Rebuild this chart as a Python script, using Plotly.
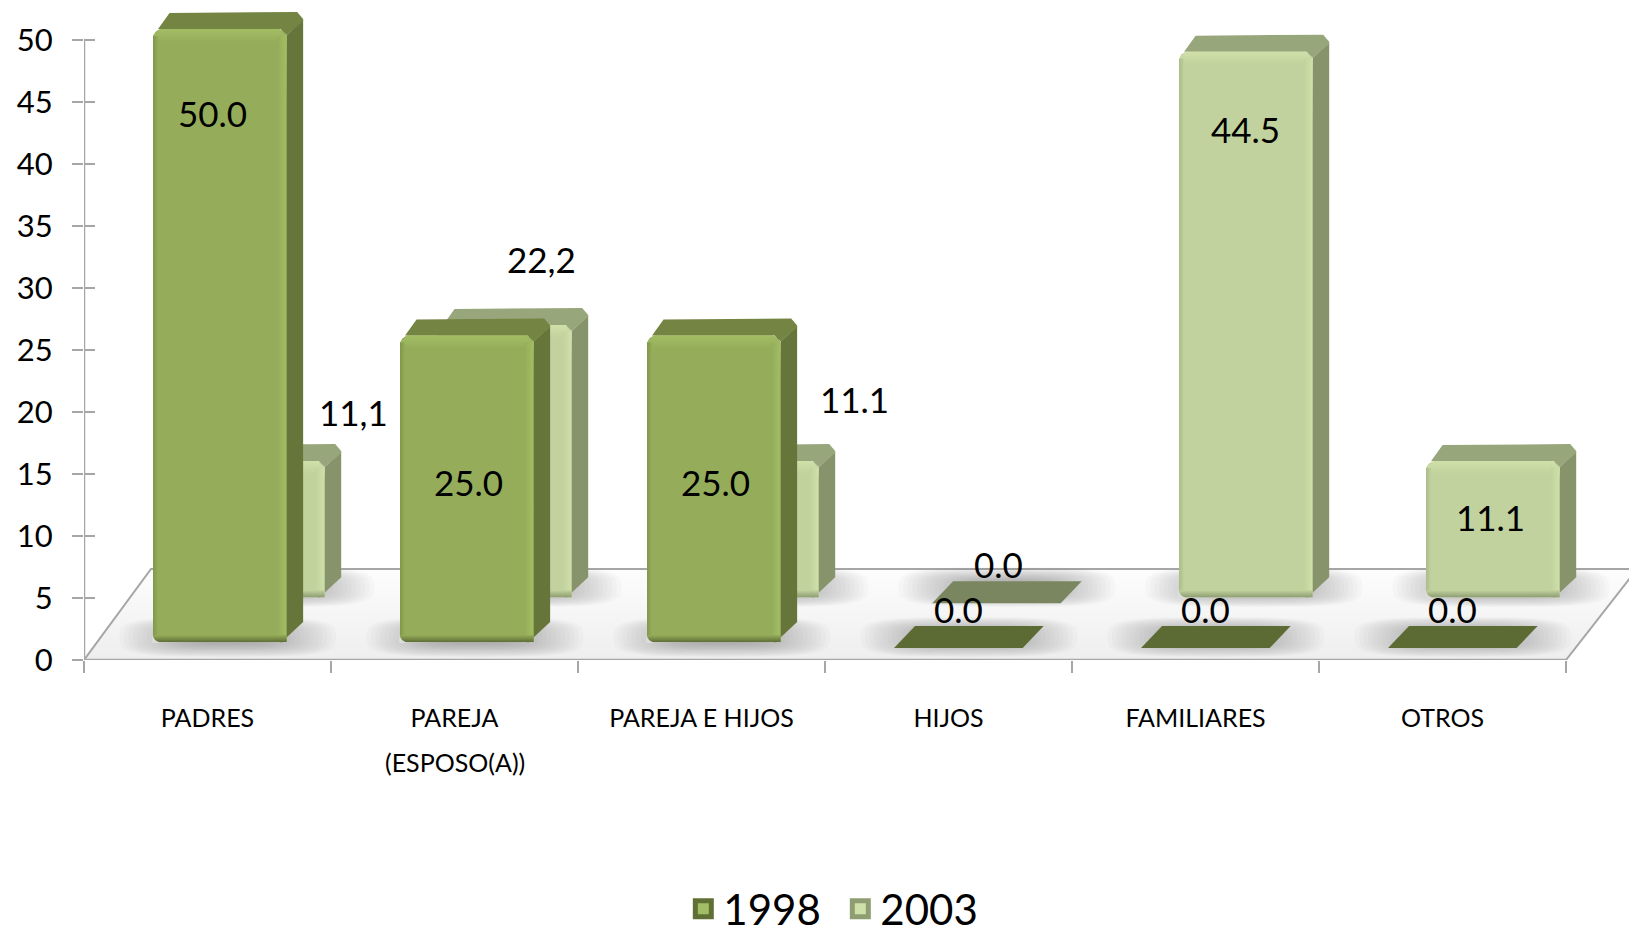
import math
import plotly.graph_objects as go

categories = ["PADRES", "PAREJA", "PAREJA E HIJOS", "HIJOS", "FAMILIARES", "OTROS"]
second_line = "(ESPOSO(A))"
values_1998 = [50.0, 25.0, 25.0, 0.0, 0.0, 0.0]
values_2003 = [11.1, 22.2, 11.1, 0.0, 44.5, 11.1]
labels_1998 = ["50.0", "25.0", "25.0", "0.0", "0.0", "0.0"]
labels_2003 = ["11,1", "22,2", "11.1", "0.0", "44.5", "11.1"]
y_ticks = [0, 5, 10, 15, 20, 25, 30, 35, 40, 45, 50]

# label offsets from bar top centre, px (right, up)
offs_1998 = [(-7, -84), (2, -146), (2, -146), (-2, 33), (-2, 33), (-2, 33)]
offs_2003 = [(96, 49), (37, 66), (103, 62), (0, 33), (0, -77), (-2, -56)]

# geometry (the page body adds an 8 px margin round the figure)
FIG_W, FIG_H = 1629, 960
PX_L, PX_Y0 = 76, 652
MARGIN_B = 40
PX_CAT = 247.0
PX_UNIT = 12.4
PX_V = 12.26
BAR_W = 133.6
DEPTH_X, DEPTH_Y = 16.5, 17.0
XMAX = (FIG_W - PX_L) / PX_CAT
YMAX = PX_Y0 / PX_UNIT
ZERO_1998, ZERO_2003 = 18.0, 62.8
GREY = "#a6a6a6"
DOMAIN = [(FIG_H - PX_Y0 - MARGIN_B) / (FIG_H - MARGIN_B), 1]

S1998 = dict(name="1998", vals=values_1998, labs=labels_1998, offs=offs_1998, dx=0.05, yaxis="y3", zero=ZERO_1998,
             front="#95ad5a", light="#a3bd64", edge="#7f9748", dark="#5f6f36", top="#748443", side="#66763b", flat="#5c6b33")
S2003 = dict(name="2003", vals=values_2003, labs=labels_2003, offs=offs_2003, dx=0.204, yaxis="y2", zero=ZERO_2003,
             front="#c1d29e", light="#cfe0a9", edge="#a9bb86", dark="#8f9e72", top="#98a77b", side="#86936b", flat="#7a8660")

fig = go.Figure()


def poly(pts, color=None, yaxis="y", grad=None):
    kw = dict(x=[p[0] for p in pts] + [pts[0][0]], y=[p[1] for p in pts] + [pts[0][1]],
              mode="lines", line=dict(width=0), fill="toself", hoverinfo="skip", showlegend=False, yaxis=yaxis)
    if grad:
        kw["fillgradient"] = dict(type=grad[0], colorscale=[[0, grad[1]], [1, grad[2]]])
    else:
        kw["fillcolor"] = color
    fig.add_trace(go.Scatter(**kw))


def seg(xs, ys, w=2.5):
    fig.add_trace(go.Scatter(x=xs, y=ys, mode="lines", line=dict(color=GREY, width=w), hoverinfo="skip",
                             showlegend=False, cliponaxis=False))


# floor
floor_h = (PX_Y0 - 561) / PX_UNIT
poly([(0, 0), (6, 0), (6 + 71 / PX_CAT, floor_h), (67 / PX_CAT, floor_h)], grad=("vertical", "#eeeeee", "#fdfdfd"))
seg([0, 67 / PX_CAT, 6 + 71 / PX_CAT, 6, 0], [0, floor_h, floor_h, 0, 0], 2)


def blob(cx, cy, hw, hh):
    pts = []
    for a in range(0, 360, 15):
        ca, sa = math.cos(math.radians(a)), math.sin(math.radians(a))
        pts.append((cx + hw * math.copysign(abs(ca) ** 0.55, ca), cy + hh * math.copysign(abs(sa) ** 0.55, sa)))
    return pts


# soft floor shadows
for s, cy_px in ((S2003, 579), (S1998, 629)):
    for i in range(6):
        cx = i + 0.5 + s["dx"] + 8 / PX_CAT
        cy = (PX_Y0 - cy_px) / PX_UNIT
        for k in range(18):
            f = 1 - k * 0.042
            poly(blob(cx, cy, (BAR_W / 2 + 42) * f / PX_CAT, 20 * f / PX_UNIT), "rgba(110,110,110,0.032)")

# axes lines and inner half of the value ticks
seg([0, 0], [0, 50])
seg([0, 6], [0, 0])
for t in y_ticks:
    seg([0, 11 / PX_CAT], [t, t], 2)


def draw_series(s):
    ya = s["yaxis"]
    centers = [i + 0.5 + s["dx"] for i in range(len(categories))]
    fig.add_trace(go.Bar(x=centers, y=s["vals"], width=BAR_W / PX_CAT, yaxis=ya,
                         marker=dict(color=s["front"], cornerradius=9, line=dict(width=0)),
                         name=s["name"], showlegend=False, hoverinfo="x+y"))
    ux, uy = 1 / PX_CAT, 1 / PX_V
    dx, dy = DEPTH_X * ux, DEPTH_Y * uy
    for c, v in zip(centers, s["vals"]):
        l, r = c - BAR_W / 2 * ux, c + BAR_W / 2 * ux
        if v == 0:
            poly([(l, -6 * uy), (r - 5 * ux, -6 * uy), (r + 16 * ux, 16 * uy), (l + 21 * ux, 16 * uy)], s["flat"], ya)
            continue
        # side and top faces
        poly([(r, v - 6 * uy), (r + dx, v + dy - 8 * uy), (r + dx, dy + 3 * uy), (r - 6 * ux, -1 * uy)], s["side"], ya)
        poly([(l + 5 * ux, v), (l + dx, v + dy - 1 * uy), (r + dx - 6 * ux, v + dy), (r + dx, v + dy - 7 * uy),
              (r + dx, v + dy - 9 * uy), (r, v - 6 * uy), (r - 6 * ux, v)], s["top"], ya)
        # soft bevel strips on the front face
        poly([(l + 7 * ux, v), (r - 7 * ux, v), (r, v - 7 * uy), (r, v - 13 * uy), (l, v - 13 * uy), (l, v - 7 * uy)],
             yaxis=ya, grad=("vertical", s["front"], s["light"]))
        poly([(r - 9 * ux, v - 7 * uy), (r, v - 7 * uy), (r, 0), (r - 9 * ux, 0)], yaxis=ya, grad=("horizontal", s["front"], s["light"]))
        poly([(l, v - 7 * uy), (l + 5 * ux, v - 7 * uy), (l + 5 * ux, 0), (l, 0)], yaxis=ya, grad=("horizontal", s["edge"], s["front"]))
        poly([(l, 7 * uy), (r, 7 * uy), (r, 0), (l, 0)], yaxis=ya, grad=("vertical", s["dark"], s["front"]))
        # rounded lower corners of the front face
        poly([(l - 1 * ux, -1 * uy), (l + 7 * ux, -1 * uy), (l + 2 * ux, 2 * uy), (l - 1 * ux, 7 * uy)], "#dcdcdc", ya)
    for c, v, lab, (ox, oy) in zip(centers, s["vals"], s["labs"], s["offs"]):
        fig.add_annotation(x=c, y=v, xref="x", yref=ya, text=lab, showarrow=False, xshift=ox, yshift=oy,
                           font=dict(size=35, color="#000000", family="Lato"))


draw_series(S2003)
draw_series(S1998)

# legend carriers
for s in (S1998, S2003):
    fig.add_trace(go.Scatter(x=[None], y=[None], mode="markers", name=s["name"],
                             marker=dict(symbol="square", size=16, color=s["light"], line=dict(width=5, color=s["dark"]))))

fig.add_annotation(x=1.5, y=0, xref="x", yref="y", text=second_line, showarrow=False, yshift=-102,
                   font=dict(size=25, color="#000000", family="Lato"))

fig.update_layout(
    width=FIG_W, height=FIG_H, autosize=False,
    margin=dict(l=PX_L, r=0, t=0, b=MARGIN_B, pad=0),
    paper_bgcolor="white", plot_bgcolor="white",
    font=dict(family="Lato", color="#000000"),
    barmode="overlay",
    xaxis=dict(range=[0, XMAX], tickmode="array", tickvals=[i + 0.5 for i in range(6)], ticktext=categories,
               ticks="", showgrid=False, zeroline=False, showline=False, tickangle=0, automargin=False,
               ticklabelstandoff=41, tickfont=dict(size=25, family="Lato", color="#000000"),
               minor=dict(tickmode="array", tickvals=list(range(7)), ticks="outside", ticklen=12, tickwidth=2, tickcolor=GREY, showgrid=False)),
    yaxis=dict(domain=DOMAIN, range=[0, YMAX], tickmode="array", tickvals=y_ticks, ticks="outside", ticklen=11, tickwidth=2, tickcolor=GREY,
               showgrid=False, zeroline=False, showline=False, ticklabelstandoff=13, automargin=False,
               tickfont=dict(size=31, family="Lato", color="#000000")),
    yaxis2=dict(domain=DOMAIN, overlaying="y", range=[-ZERO_2003 / PX_V, (PX_Y0 - ZERO_2003) / PX_V], visible=False),
    yaxis3=dict(domain=DOMAIN, overlaying="y", range=[-ZERO_1998 / PX_V, (PX_Y0 - ZERO_1998) / PX_V], visible=False),
    legend=dict(orientation="h", x=0.487, xanchor="center", y=(FIG_H - MARGIN_B - 901) / (FIG_H - MARGIN_B), yanchor="middle",
                entrywidth=112, entrywidthmode="pixels",
                font=dict(size=42, family="Lato", color="#000000"), bgcolor="rgba(0,0,0,0)"),
)
fig.write_html("out.html", post_script="document.documentElement.style.overflow='hidden';document.body.style.overflow='hidden';")
